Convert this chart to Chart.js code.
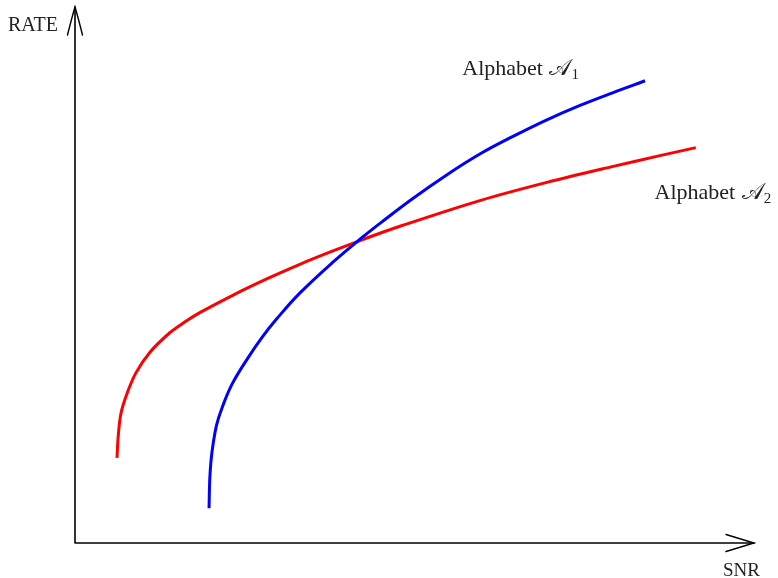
<!DOCTYPE html>
<html>
<head>
<meta charset="utf-8">
<script src="https://cdn.jsdelivr.net/npm/chart.js@4/dist/chart.umd.min.js"></script>
<style>
  html, body { margin: 0; padding: 0; background: #ffffff; }
  #wrap { width: 778px; height: 578px; position: relative; }
</style>
</head>
<body>
<div id="wrap"><canvas id="chart"></canvas></div>
<script>
// Rate versus SNR for two signalling alphabets (arbitrary units)
const snrA1 = [1.98, 1.99, 2.01, 2.04, 2.09, 2.17, 2.32, 2.56, 2.76, 2.98, 3.32, 3.81, 4.25, 4.51, 4.99, 5.49, 5.98, 6.47, 6.97, 7.46, 7.95, 8.42];
const rateA1 = [0.65, 1.18, 1.55, 1.85, 2.20, 2.52, 2.97, 3.47, 3.84, 4.19, 4.67, 5.25, 5.72, 5.98, 6.44, 6.88, 7.27, 7.60, 7.91, 8.18, 8.42, 8.64];

const snrA2 = [0.62, 0.64, 0.68, 0.77, 0.90, 1.11, 1.40, 1.62, 1.85, 2.33, 2.84, 3.32, 3.81, 4.31, 4.80, 5.98, 6.97, 7.95, 8.64, 9.17];
const rateA2 = [1.59, 2.02, 2.43, 2.80, 3.18, 3.57, 3.93, 4.13, 4.31, 4.63, 4.94, 5.21, 5.46, 5.70, 5.92, 6.40, 6.74, 7.04, 7.24, 7.39];

const seriesNames = ['Alphabet A1', 'Alphabet A2'];
const labelSubscripts = ['1', '2'];
const axisNames = { x: 'SNR', y: 'RATE' };

const toPoints = (xs, ys) => xs.map((x, i) => ({ x, y: ys[i] }));

const SERIF = '"Liberation Serif", "DejaVu Serif", serif';
const TEXT_COLOR = '#222222';

// Draws the arrow-tipped axes, the axis names and the curve labels
const annotate = {
  id: 'annotate',
  afterDatasetsDraw(chart) {
    const { ctx, scales: { x, y }, chartArea } = chart;
    const ox = x.getPixelForValue(0);
    const oy = y.getPixelForValue(0);
    const tipX = chartArea.right + 2;
    const tipY = chartArea.top - 1;

    ctx.save();
    ctx.strokeStyle = '#000';
    ctx.lineWidth = 1.6;
    ctx.lineCap = 'round';
    ctx.beginPath();
    ctx.moveTo(ox, oy);
    ctx.lineTo(tipX, oy);
    ctx.moveTo(ox, oy);
    ctx.lineTo(ox, tipY);
    ctx.stroke();

    // open arrowheads
    ctx.lineWidth = 1.4;
    ctx.beginPath();
    ctx.moveTo(tipX - 28, oy - 8.5);
    ctx.quadraticCurveTo(tipX - 10, oy - 3, tipX, oy);
    ctx.quadraticCurveTo(tipX - 10, oy + 3, tipX - 28, oy + 8.5);
    ctx.moveTo(ox - 7.5, tipY + 28);
    ctx.quadraticCurveTo(ox - 3, tipY + 10, ox, tipY);
    ctx.quadraticCurveTo(ox + 3, tipY + 10, ox + 7.5, tipY + 28);
    ctx.stroke();

    ctx.fillStyle = TEXT_COLOR;
    ctx.textBaseline = 'alphabetic';
    ctx.textAlign = 'left';
    ctx.font = '20px ' + SERIF;
    ctx.fillText(axisNames.y, ox - 67, tipY + 24);
    ctx.font = '19px ' + SERIF;
    ctx.fillText(axisNames.x, tipX - 31, oy + 33);

    // curve labels: "Alphabet" followed by a script A with a subscript
    const drawLabel = (lx, ly, sub) => {
      const px = x.getPixelForValue(lx);
      const py = y.getPixelForValue(ly);
      ctx.font = '22px ' + SERIF;
      const word = 'Alphabet ';
      ctx.fillText(word, px, py);
      let cx = px + ctx.measureText(word).width + 1;
      ctx.font = '23px "DejaVu Serif", serif';
      const glyph = '\u{1D49C}';
      ctx.fillText(glyph, cx, py);
      cx += ctx.measureText(glyph).width;
      ctx.font = '15px ' + SERIF;
      ctx.fillText(sub, cx, py + 4);
    };
    drawLabel(5.72, 8.75, labelSubscripts[0]);
    drawLabel(8.56, 6.43, labelSubscripts[1]);
    ctx.restore();
  }
};

new Chart(document.getElementById('chart'), {
  type: 'scatter',
  data: {
    datasets: [
      {
        label: seriesNames[0],
        data: toPoints(snrA1, rateA1),
        showLine: true,
        borderColor: '#0000ff',
        borderWidth: 3,
        pointRadius: 0,
        tension: 0.4,
        fill: false
      },
      {
        label: seriesNames[1],
        data: toPoints(snrA2, rateA2),
        showLine: true,
        borderColor: '#ff0000',
        borderWidth: 3,
        pointRadius: 0,
        tension: 0.35,
        fill: false
      }
    ]
  },
  options: {
    responsive: true,
    maintainAspectRatio: false,
    animation: false,
    layout: { padding: { left: 75, right: 26, top: 8, bottom: 35 } },
    plugins: {
      legend: { display: false },
      tooltip: { enabled: false }
    },
    scales: {
      x: { type: 'linear', min: 0, max: 10, display: false },
      y: { type: 'linear', min: 0, max: 10, display: false }
    }
  },
  plugins: [annotate]
});
</script>
</body>
</html>
